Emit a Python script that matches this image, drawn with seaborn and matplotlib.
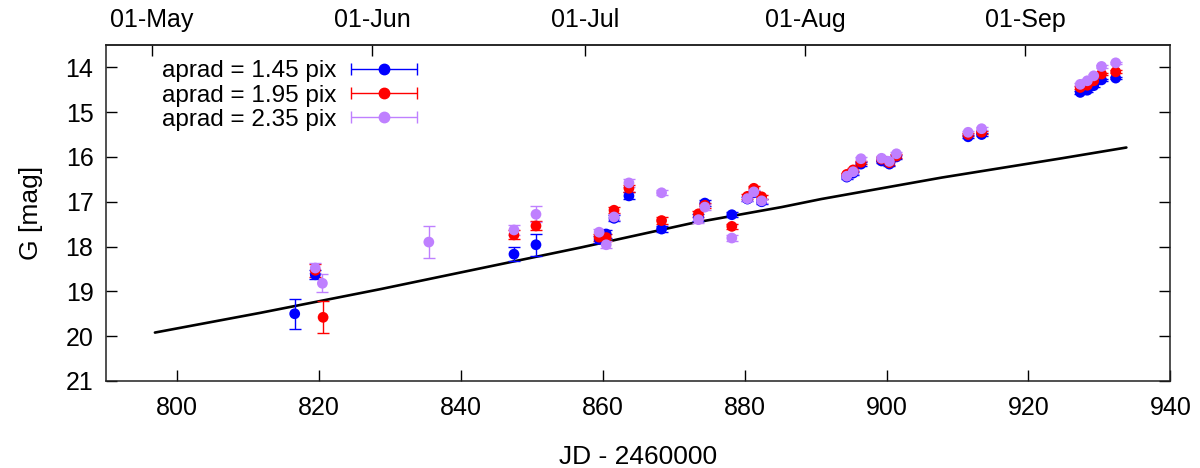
import numpy as np
import pandas as pd
import matplotlib
matplotlib.use("Agg")
import matplotlib.pyplot as plt
import seaborn as sns
from matplotlib.container import ErrorbarContainer
from matplotlib.legend_handler import HandlerErrorbar

# --- photometry for three aperture radii (JD - 2460000, G mag, 1-sigma error) ---
jd_145 = [816.6, 819.5, 847.5, 850.6, 859.5, 860.5, 861.6, 863.7, 868.3, 873.5, 874.4,
          878.2, 880.4, 881.3, 882.4, 894.4, 895.3, 896.4, 899.3, 900.4, 901.4,
          911.5, 913.4, 927.3, 928.3, 929.2, 930.3, 932.3]
mag_145 = [19.50, 18.63, 18.17, 17.96, 17.84, 17.72, 17.37, 16.87, 17.61, 17.35, 17.03,
           17.29, 16.94, 16.80, 17.00, 16.45, 16.36, 16.16, 16.09, 16.16, 16.00,
           15.55, 15.50, 14.56, 14.51, 14.41, 14.28, 14.24]
err_145 = [0.34, 0.10, 0.15, 0.25, 0.08, 0.08, 0.07, 0.08, 0.07, 0.07, 0.06,
           0.06, 0.05, 0.05, 0.05, 0.04, 0.04, 0.04, 0.04, 0.04, 0.04,
           0.03, 0.03, 0.03, 0.03, 0.03, 0.03, 0.03]

jd_195 = [819.5, 820.6, 847.5, 850.6, 859.5, 860.5, 861.6, 863.7, 868.3, 873.5, 874.4,
          878.2, 880.4, 881.3, 882.4, 894.4, 895.3, 896.4, 899.3, 900.4, 901.4,
          911.5, 913.4, 927.3, 928.3, 929.2, 930.3, 932.3]
mag_195 = [18.53, 19.58, 17.74, 17.54, 17.79, 17.80, 17.19, 16.70, 17.42, 17.27, 17.08,
           17.55, 16.88, 16.70, 16.89, 16.39, 16.29, 16.12, 16.05, 16.13, 15.98,
           15.50, 15.45, 14.45, 14.40, 14.30, 14.15, 14.10]
err_195 = [0.15, 0.36, 0.10, 0.10, 0.08, 0.08, 0.07, 0.08, 0.07, 0.07, 0.06,
           0.06, 0.05, 0.05, 0.05, 0.04, 0.04, 0.04, 0.04, 0.04, 0.04,
           0.03, 0.03, 0.03, 0.03, 0.03, 0.03, 0.03]

jd_235 = [819.5, 820.5, 835.5, 847.5, 850.6, 859.5, 860.5, 861.6, 863.7, 868.3, 873.5,
          874.4, 878.2, 880.4, 881.3, 882.4, 894.4, 895.3, 896.4, 899.3, 900.4,
          901.4, 911.5, 913.4, 927.3, 928.3, 929.2, 930.3, 932.3]
mag_235 = [18.48, 18.82, 17.90, 17.63, 17.28, 17.68, 17.96, 17.34, 16.58, 16.80, 17.40,
           17.12, 17.81, 16.93, 16.78, 16.98, 16.43, 16.33, 16.04, 16.03, 16.10,
           15.93, 15.45, 15.37, 14.38, 14.30, 14.19, 13.98, 13.90]
err_235 = [0.12, 0.20, 0.36, 0.12, 0.18, 0.08, 0.08, 0.07, 0.08, 0.06, 0.07,
           0.06, 0.07, 0.05, 0.05, 0.05, 0.04, 0.04, 0.04, 0.04, 0.04,
           0.04, 0.03, 0.03, 0.03, 0.03, 0.03, 0.03, 0.03]

# --- predicted brightness curve ---
pred_jd = [796.9, 811.75, 828.7, 856.95, 872.5, 885.2, 890.8, 907.8, 924.7, 933.8]
pred_mag = [19.92, 19.48, 18.95, 18.02, 17.48, 17.12, 16.94, 16.46, 16.03, 15.79]

# --- calendar labels on the top axis ---
month_jd = [796.5, 827.5, 857.5, 888.5, 919.5]
month_labels = ["01-May", "01-Jun", "01-Jul", "01-Aug", "01-Sep"]

series_labels = ["aprad = 1.45 pix", "aprad = 1.95 pix", "aprad = 2.35 pix"]
series_colors = ["#0000ff", "#ff0000", "#bf80ff"]

frames = []
for lab, j, m, e in zip(series_labels,
                        [jd_145, jd_195, jd_235],
                        [mag_145, mag_195, mag_235],
                        [err_145, err_195, err_235]):
    frames.append(pd.DataFrame({"jd": j, "mag": m, "err": e, "aperture": lab}))
df = pd.concat(frames, ignore_index=True)
pred = pd.DataFrame({"jd": pred_jd, "mag": pred_mag})

sns.set_style("ticks")
plt.rcParams["font.family"] = ["Liberation Sans", "DejaVu Sans"]
plt.rcParams["font.size"] = 18
plt.rcParams["text.color"] = "black"
plt.rcParams["axes.labelcolor"] = "black"
plt.rcParams["xtick.color"] = "black"
plt.rcParams["ytick.color"] = "black"

fig = plt.figure(figsize=(12, 4.68), dpi=100)
ax = fig.add_axes([0.0883, 0.186, 0.887, 0.718])

sns.lineplot(data=pred, x="jd", y="mag", color="black", linewidth=1.9,
             ax=ax, zorder=2, legend=False)

proxies = []
for lab, col in zip(series_labels, series_colors):
    sub = df[df["aperture"] == lab]
    ax.errorbar(sub["jd"], sub["mag"], yerr=sub["err"], fmt="none",
                ecolor=col, elinewidth=1.0, capsize=4, capthick=1.0, zorder=3)
    sns.scatterplot(data=sub, x="jd", y="mag", color=col, s=60,
                    edgecolor="none", linewidth=0, ax=ax, zorder=4, legend=False)
    # horizontal key sample with end caps and a dot in the middle
    proxies.append(ax.errorbar([np.nan], [np.nan], xerr=[1.0], fmt="o", color=col,
                               ms=7.5, elinewidth=1.0, capsize=4, capthick=1.0,
                               label=lab))

ax.set_xlim(790, 940)
ax.set_ylim(21, 13.5)
ax.set_xticks(np.arange(800, 941, 20))
ax.set_yticks(np.arange(14, 22, 1))
ax.set_xlabel("JD - 2460000", fontsize=19, labelpad=18)
ax.set_ylabel("G [mag]", fontsize=19, labelpad=16)

ax.tick_params(axis="both", direction="in", length=8, width=1,
               labelsize=18, pad=11)
ax.tick_params(axis="y", right=True, pad=9)
ax.tick_params(axis="x", top=False)

top = ax.secondary_xaxis("top")
top.set_xticks(month_jd)
top.set_xticklabels(month_labels)
top.tick_params(direction="in", length=8, width=1, labelsize=18, pad=9)

for sp in list(ax.spines.values()) + list(top.spines.values()):
    sp.set_color("#202020")
    sp.set_linewidth(1.1)

ax.legend(handles=proxies, labels=series_labels, loc="upper left",
          bbox_to_anchor=(0.053, 0.955), frameon=False, markerfirst=False,
          handlelength=2.7, handletextpad=0.6, labelspacing=0.1,
          borderpad=0, borderaxespad=0, fontsize=17.5, numpoints=1,
          handler_map={ErrorbarContainer: HandlerErrorbar(xerr_size=1.35)})

fig.savefig("out.png", dpi=100)
